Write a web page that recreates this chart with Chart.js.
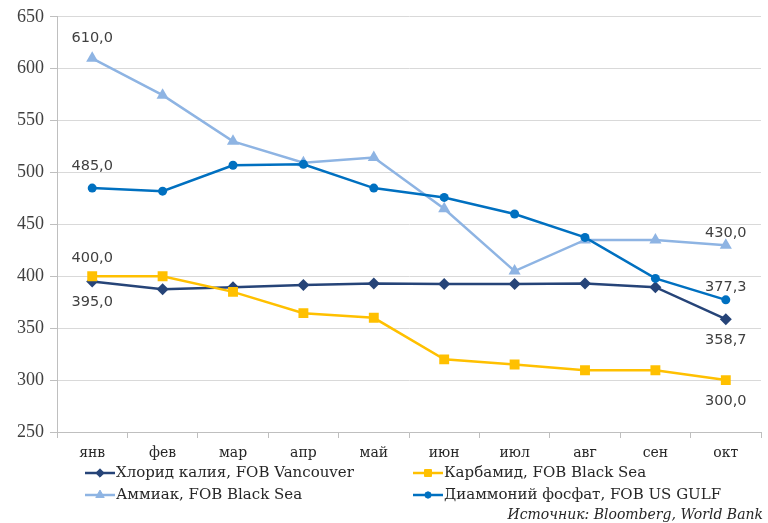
<!DOCTYPE html>
<html>
<head>
<meta charset="utf-8">
<script src="https://cdn.jsdelivr.net/npm/chart.js@4/dist/chart.umd.min.js"></script>
<style>
  html, body { margin: 0; padding: 0; background: #ffffff; }
  #wrap { width: 768px; height: 523px; position: relative; }
</style>
</head>
<body>
<div id="wrap"><canvas id="c" width="768" height="523"></canvas></div>
<script>
// Месяцы
const months = ['янв', 'фев', 'мар', 'апр', 'май', 'июн', 'июл', 'авг', 'сен', 'окт'];

// Цены, $/т
const potashVancouver = [395.0, 387.5, 389.5, 391.5, 393.0, 392.5, 392.5, 393.0, 389.5, 358.7];
const ureaBlackSea    = [400.0, 400.0, 385.0, 364.5, 360.0, 320.0, 315.0, 309.5, 309.5, 300.0];
const ammoniaBlackSea = [610.0, 574.5, 530.0, 509.5, 514.5, 465.0, 405.0, 435.0, 435.0, 430.0];
const dapUsGulf       = [485.0, 482.0, 507.0, 508.0, 485.0, 476.0, 460.0, 437.5, 398.0, 377.3];

// Подписи осей и легенды
const yTicks = [250, 300, 350, 400, 450, 500, 550, 600, 650];
const seriesNames = [
  'Хлорид калия, FOB Vancouver',
  'Карбамид, FOB Black Sea',
  'Аммиак, FOB Black Sea',
  'Диаммоний фосфат, FOB US GULF'
];
const sourceNote = 'Источник: Bloomberg, World Bank';

// Подписи значений: серия, индекс точки, сдвиг по вертикали
const valueLabels = [
  { ds: 2, i: 0, dy: -20 },
  { ds: 3, i: 0, dy: -22 },
  { ds: 1, i: 0, dy: -18 },
  { ds: 0, i: 0, dy: 21 },
  { ds: 2, i: 9, dy: -12 },
  { ds: 3, i: 9, dy: -13 },
  { ds: 0, i: 9, dy: 21 },
  { ds: 1, i: 9, dy: 21 }
];

const fmt = v => v.toFixed(1).replace('.', ',');

const valueLabelPlugin = {
  id: 'valueLabels',
  afterDatasetsDraw(chart) {
    const ctx = chart.ctx;
    ctx.save();
    ctx.font = '14.5px "DejaVu Sans"';
    ctx.fillStyle = '#404040';
    ctx.textAlign = 'center';
    ctx.textBaseline = 'middle';
    valueLabels.forEach(l => {
      const pt = chart.getDatasetMeta(l.ds).data[l.i];
      const v = chart.data.datasets[l.ds].data[l.i];
      ctx.fillText(fmt(v), pt.x, pt.y + l.dy);
    });
    ctx.restore();
  }
};

// Легенда в две колонки и подпись источника
const legendPlugin = {
  id: 'gridLegend',
  afterDraw(chart) {
    const ctx = chart.ctx;
    const cols = [85, 413];
    const rows = [473, 495];
    ctx.save();
    chart.data.datasets.forEach((ds, k) => {
      const x = cols[k % 2];
      const y = rows[Math.floor(k / 2)];
      ctx.strokeStyle = ds.borderColor;
      ctx.lineWidth = 2.5;
      ctx.beginPath();
      ctx.moveTo(x, y);
      ctx.lineTo(x + 30, y);
      ctx.stroke();
      ctx.fillStyle = ds.borderColor;
      ctx.lineWidth = 1;
      Chart.helpers.drawPoint(ctx, {
        pointStyle: ds.pointStyle,
        radius: ds.pointRadius * 0.7,
        borderWidth: 1
      }, x + 15, y);
      ctx.font = '15px "DejaVu Serif"';
      ctx.fillStyle = '#262626';
      ctx.textAlign = 'left';
      ctx.textBaseline = 'middle';
      ctx.fillText(ds.label, x + 31, y);
    });
    ctx.font = 'italic 14px "DejaVu Serif"';
    ctx.fillStyle = '#262626';
    ctx.textAlign = 'right';
    ctx.textBaseline = 'middle';
    ctx.fillText(sourceNote, 763, 515);
    ctx.restore();
  }
};

const colors = ['#264478', '#FFC000', '#8EB4E3', '#0070C0'];
const styles = ['rectRot', 'rect', 'triangle', 'circle'];
const radii = [6, 7, 7, 4.5];
const values = [potashVancouver, ureaBlackSea, ammoniaBlackSea, dapUsGulf];

new Chart(document.getElementById('c'), {
  type: 'line',
  data: {
    labels: months,
    datasets: values.map((d, k) => ({
      label: seriesNames[k],
      data: d,
      borderColor: colors[k],
      backgroundColor: colors[k],
      pointBackgroundColor: colors[k],
      pointBorderColor: colors[k],
      pointStyle: styles[k],
      pointRadius: radii[k],
      pointBorderWidth: 0,
      borderWidth: 2.5,
      tension: 0,
      order: 4 - k
    }))
  },
  options: {
    responsive: false,
    animation: false,
    layout: { padding: { left: 0, right: 7, top: 16, bottom: 61 } },
    plugins: {
      legend: { display: false },
      tooltip: { enabled: false },
      title: { display: false }
    },
    scales: {
      x: {
        offset: true,
        grid: {
          drawOnChartArea: false,
          offset: true,
          tickLength: 6,
          color: '#BFBFBF'
        },
        border: { color: '#BFBFBF', width: 1 },
        ticks: {
          font: { family: 'DejaVu Serif', size: 14 },
          color: '#262626',
          padding: 7,
          maxRotation: 0
        },
        afterFit(s) { s.height = 30; }
      },
      y: {
        min: 250,
        max: 650,
        afterBuildTicks(s) { s.ticks = yTicks.map(v => ({ value: v })); },
        grid: {
          color: '#D9D9D9',
          lineWidth: 1,
          tickLength: 7,
          tickColor: '#BFBFBF'
        },
        border: { color: '#BFBFBF', width: 1 },
        ticks: {
          font: { family: 'Liberation Serif', size: 18 },
          color: '#404040',
          padding: 6
        },
        afterFit(s) { s.width = 57; }
      }
    }
  },
  plugins: [valueLabelPlugin, legendPlugin]
});
</script>
</body>
</html>
